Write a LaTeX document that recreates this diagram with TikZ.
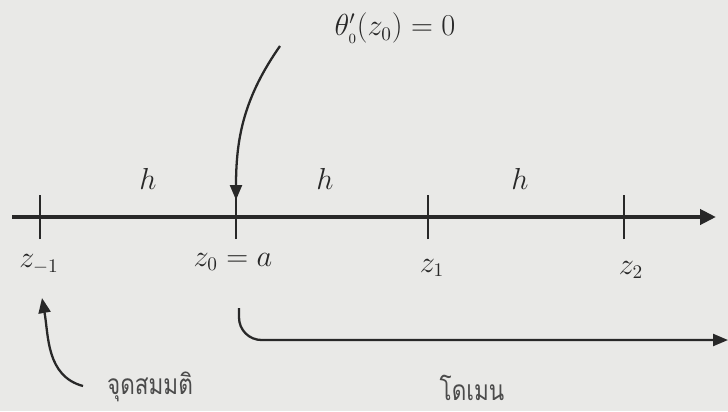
\documentclass[tikz,border=0pt]{standalone}
\usepackage{amsmath,amssymb}
\usepackage{fontspec}
\newfontfamily\thaifont[Script=Thai,FakeStretch=0.8]{Loma}
\usepackage{tikz}
\usetikzlibrary{arrows.meta}
\definecolor{paper}{RGB}{233,233,231}
\definecolor{ink}{RGB}{40,40,40}
\definecolor{softink}{RGB}{75,75,75}

\begin{document}
\begin{tikzpicture}[scale=1,
    every node/.style={text=ink,font=\fontsize{16}{18}\selectfont},
    thai/.style={text=softink,font=\thaifont\fontsize{16}{19}\selectfont},
    tickmark/.style={draw=ink,line width=1.6pt},
    pointer/.style={draw=ink,line width=1.3pt,-{Triangle[length=0.3cm,width=0.24cm]}}
]

% Paper
\fill[paper] (0,0) rectangle (14.56,8.22);
\useasboundingbox (0,0) rectangle (14.56,8.22);

% Axis
\coordinate (start) at (0.24,3.88);
\coordinate (end) at (14.32,3.88);
\draw[ink,line width=2.4pt,-{Triangle[length=0.32cm,width=0.3cm]}] (start) -- (end);

% Grid points
\foreach \x/\name in {0.8/zm1,4.72/z0,8.56/z1,12.48/z2}{
  \coordinate (\name) at (\x,3.88);
  \draw[tickmark] (\x,3.44) -- (\x,4.32);
}
\coordinate (top) at (4.72,4.22);

% Step sizes
\node (h1) at (2.96,4.64) {$h$};
\node (h2) at (6.5,4.64) {$h$};
\node (h3) at (10.4,4.64) {$h$};

% Point labels
\node (lm1) at (0.78,2.94) {$z_{-1}$};
\node (l0) at (4.66,2.98) {$z_0 = a$};
\node (l1) at (8.64,2.86) {$z_1$};
\node (l2) at (12.62,2.82) {$z_2$};

% Boundary condition
\node (bc) at (7.9,7.66) {$\theta_{\scriptscriptstyle 0}'(z_0) = 0$};
\coordinate (bcfoot) at (5.6,7.3);
\draw[pointer] (bcfoot) to[out=235,in=90] (top);

% Assumed point
\node[thai] (ghost) at (3.0,0.48) {จุดสมมติ};
\coordinate (ghostfoot) at (1.66,0.5);
\coordinate (ghosttip) at (0.84,2.26);
\draw[pointer] (ghostfoot) to[out=165,in=-80] (ghosttip);

% Domain
\node[thai] (domain) at (9.44,0.46) {โดเมน};
\coordinate (dstart) at (4.78,2.06);
\coordinate (dend) at (14.56,1.42);
\draw[pointer,rounded corners=0.45cm] (dstart) |- (dend);

\end{tikzpicture}
\end{document}
